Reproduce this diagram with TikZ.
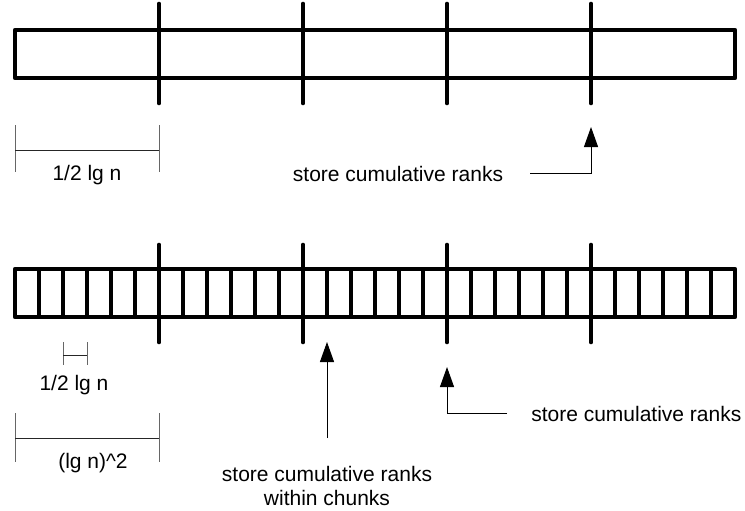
\documentclass[tikz,border=0pt]{standalone}
\usepackage{fontspec}
\setmainfont{Liberation Sans}
\usetikzlibrary{arrows.meta}
\begin{document}
\begin{tikzpicture}[x=0.75pt,y=-0.75pt,
  thickline/.style={line width=3.5pt,line cap=round,line join=round},
  dimtick/.style={line width=0.75pt,black!60},
  dimline/.style={line width=0.75pt,black!85},
  lbl/.style={inner sep=0pt,font=\fontsize{15.75}{18}\selectfont},
  conn/.style={line width=0.75pt,-{Triangle[width=10.5pt,length=15pt]}}]
\useasboundingbox (0,0) rectangle (745,510);

% top structure
\draw[thickline] (15,30) rectangle (735,78);
\foreach \i/\x in {1/159,2/303,3/447,4/591}{
  \draw[thickline] (\x,4) coordinate (tt\i) -- (\x,103) coordinate (tb\i);
}

% bottom structure
\draw[thickline] (15,269) rectangle (735,317);
\foreach \k in {1,...,29}{
  \draw[line width=3.2pt] ({15+24*\k},269) -- ({15+24*\k},317);
}
\foreach \i/\x in {1/159,2/303,3/447,4/591}{
  \draw[thickline] (\x,245) coordinate (bt\i) -- (\x,342) coordinate (bb\i);
}

% top dimension
\draw[dimtick] (15,125) -- (15,172);
\draw[dimtick] (159,125) -- (159,172);
\draw[dimline] (15,150) -- (159,150);
\node[lbl] (d1) at (87,175) {1/2 lg n};

% top annotation
\node[lbl] (t1) at (398,174) {store cumulative ranks};
\coordinate (t1e) at (530,173);
\coordinate (t1tip) at (591,127);
\draw[conn] (t1e) -- (t1e -| t1tip) -- (t1tip);

% small dimension
\draw[dimtick] (63,342) -- (63,365);
\draw[dimtick] (87,342) -- (87,365);
\draw[dimline] (63,355) -- (87,355);
\node[lbl] (d2) at (74,385) {1/2 lg n};

% big dimension
\draw[dimtick] (15,413) -- (15,462);
\draw[dimtick] (159,413) -- (159,462);
\draw[dimline] (15,438) -- (159,438);
\node[lbl] (d3) at (93,463) {(lg n)\textasciicircum 2};

% bottom annotations
\node[lbl,align=center] (b1) at (327,486) {store cumulative ranks\\within chunks};
\coordinate (b1s) at (327,438);
\coordinate (b1tip) at (327,342);
\draw[conn] (b1s) -- (b1tip);

\node[lbl,anchor=west] (b2) at (531,414) {store cumulative ranks};
\coordinate (b2s) at (507,413);
\coordinate (b2tip) at (447,367);
\draw[conn] (b2s) -- (b2s -| b2tip) -- (b2tip);
\end{tikzpicture}
\end{document}
